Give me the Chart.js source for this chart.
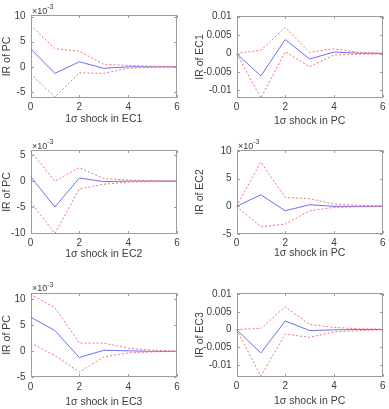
<!DOCTYPE html>
<html>
<head>
<meta charset="utf-8">
<script src="https://cdn.jsdelivr.net/npm/chart.js@4"></script>
<style>
  html,body{margin:0;padding:0;background:#fff;}
  body{width:389px;height:409px;position:relative;overflow:hidden;}
  canvas{position:absolute;}
</style>
</head>
<body>
<canvas id="c1"></canvas>
<canvas id="c2"></canvas>
<canvas id="c3"></canvas>
<canvas id="c4"></canvas>
<canvas id="c5"></canvas>
<canvas id="c6"></canvas>
<script>
// ---------- data ----------
const steps = [0, 1, 2, 3, 4, 5, 6];
const xTicks = [0, 2, 4, 6];

// Panel 1: IR of PC, 1σ shock in EC1 (values in real units)
const p1Ir    = [0.0036, -0.0013, 0.0010, -0.0003, 0.0000, 0.0000, 0.0000];
const p1Upper = [0.0083, 0.0036, 0.0031, 0.0005, 0.0003, 0.0001, 0.00005];
const p1Lower = [-0.0014, -0.0060, -0.0012, -0.0013, -0.0003, -0.0001, -0.00005];
const p1YTicks = [-0.005, 0, 0.005, 0.01];

// Panel 2: IR of EC1, 1σ shock in PC
const p2Ir    = [0, -0.0061, 0.0038, -0.0015, 0.0004, 0.0001, 0.0000];
const p2Upper = [0, 0.0009, 0.0071, 0.0003, 0.0013, 0.0003, 0.0001];
const p2Lower = [0, -0.0121, 0.0005, -0.0036, -0.0004, -0.0002, -0.0001];
const p2YTicks = [-0.01, -0.005, 0, 0.005, 0.01];

// Panel 3: IR of PC, 1σ shock in EC2
const p3Ir    = [0.0009, -0.0050, 0.0006, -0.0001, 0.0000, 0.0000, 0.0000];
const p3Upper = [0.0058, 0.0000, 0.0026, 0.0005, 0.0002, 0.0001, 0.0000];
const p3Lower = [-0.0040, -0.0101, -0.0015, -0.0006, -0.0002, -0.0001, 0.0000];
const p3YTicks = [-0.01, -0.005, 0, 0.005];

// Panel 4: IR of EC2, 1σ shock in PC
const p4Ir    = [0, 0.0021, -0.0008, 0.0003, 0.0000, 0.0000, 0.0000];
const p4Upper = [0, 0.0080, 0.0016, 0.0014, 0.0004, 0.0002, 0.0001];
const p4Lower = [0, -0.0037, -0.0032, -0.0008, -0.0002, -0.0001, 0.0000];
const p4YTicks = [-0.005, 0, 0.005, 0.01];

// Panel 5: IR of PC, 1σ shock in EC3
const p5Ir    = [0.0066, 0.0040, -0.0012, 0.0002, 0.0001, 0.0000, 0.0000];
const p5Upper = [0.0110, 0.0084, 0.0016, 0.0016, 0.0006, 0.0002, 0.0001];
const p5Lower = [0.0016, -0.0008, -0.0040, -0.0011, -0.0003, -0.0001, 0.0000];
const p5YTicks = [-0.005, 0, 0.005, 0.01];

// Panel 6: IR of EC3, 1σ shock in PC
const p6Ir    = [0, -0.0066, 0.0024, -0.0003, -0.0001, 0.0000, 0.0000];
const p6Upper = [0, 0.0003, 0.0064, 0.0014, 0.0006, 0.0002, 0.0001];
const p6Lower = [0, -0.0131, -0.0013, -0.0022, -0.0007, -0.0003, -0.0001];
const p6YTicks = [-0.01, -0.005, 0, 0.005, 0.01];

// ---------- styling ----------
const FONT = "'Liberation Sans', Arial, Helvetica, sans-serif";
const AXIS_COLOR = '#9c9c9c';
const TEXT_COLOR = '#3c3c3c';
const BLUE = '#6f6ff2';
const RED = '#f2707e';
Chart.defaults.font.family = FONT;
Chart.defaults.color = TEXT_COLOR;

const boxPlugin = {
  id: 'matlabBox',
  beforeDatasetsDraw(chart) {
    const {ctx, chartArea: a, scales} = chart;
    const x = scales.x, y = scales.y;
    const l = Math.round(a.left) + 0.5, r = Math.round(a.right) - 0.5;
    const t = Math.round(a.top) + 0.5, b = Math.round(a.bottom) - 0.5;
    ctx.save();
    ctx.strokeStyle = AXIS_COLOR;
    ctx.lineWidth = 1;
    ctx.strokeRect(l, t, r - l, b - t);
    const L = 2.5;
    ctx.beginPath();
    x.ticks.forEach(tk => {
      const px = Math.round(x.getPixelForValue(tk.value)) + 0.5;
      ctx.moveTo(px, b); ctx.lineTo(px, b - L);
      ctx.moveTo(px, t); ctx.lineTo(px, t + L);
    });
    y.ticks.forEach(tk => {
      const py = Math.round(y.getPixelForValue(tk.value)) + 0.5;
      ctx.moveTo(l, py); ctx.lineTo(l + L, py);
      ctx.moveTo(r, py); ctx.lineTo(r - L, py);
    });
    ctx.stroke();
    ctx.restore();
  },
  afterDraw(chart, args, opts) {
    if (!opts.exp) return;
    const {ctx, chartArea: a} = chart;
    ctx.save();
    ctx.fillStyle = TEXT_COLOR;
    ctx.textBaseline = 'alphabetic';
    ctx.font = '9px ' + FONT;
    const base = '\u00d710';
    ctx.fillText(base, a.left + 1.5, a.top - 1.5);
    const w = ctx.measureText(base).width;
    ctx.font = '7px ' + FONT;
    ctx.fillText('-3', a.left + 1.5 + w, a.top - 6);
    ctx.restore();
  }
};

function makePanel(id, geo, area, yTitle, xTitle, ir, upper, lower, yTicks, yMin, yMax, exp) {
  const cv = document.getElementById(id);
  cv.width = geo.w; cv.height = geo.h;
  cv.style.left = geo.left + 'px'; cv.style.top = geo.top + 'px';
  cv.style.width = geo.w + 'px'; cv.style.height = geo.h + 'px';
  const yW = area.l - geo.left;
  const xH = geo.top + geo.h - area.b;
  const padTop = area.t - geo.top;
  const padRight = geo.left + geo.w - area.r;
  const pts = arr => steps.map((s, i) => ({x: s, y: arr[i]}));
  new Chart(cv, {
    type: 'line',
    data: {
      datasets: [
        {data: pts(upper), borderColor: RED, borderWidth: 1, borderDash: [2, 2], pointRadius: 0, tension: 0, fill: false},
        {data: pts(lower), borderColor: RED, borderWidth: 1, borderDash: [2, 2], pointRadius: 0, tension: 0, fill: false},
        {data: pts(ir), borderColor: BLUE, borderWidth: 1, pointRadius: 0, tension: 0, fill: false}
      ]
    },
    options: {
      responsive: false,
      animation: false,
      devicePixelRatio: 1,
      layout: {padding: {left: 0, top: padTop, right: padRight, bottom: 0}},
      plugins: {legend: {display: false}, tooltip: {enabled: false}, matlabBox: {exp: exp}},
      scales: {
        x: {
          type: 'linear', min: 0, max: 6,
          grid: {display: false, drawTicks: false},
          border: {display: false},
          afterBuildTicks: s => { s.ticks = xTicks.map(v => ({value: v})); },
          afterFit: s => { s.height = xH; },
          ticks: {padding: 3.5, font: {size: 10}, color: TEXT_COLOR, maxRotation: 0, autoSkip: false,
                  callback: v => String(v)},
          title: {display: true, text: xTitle, font: {size: 10.5}, color: TEXT_COLOR, padding: {top: 0, bottom: 0.4}}
        },
        y: {
          type: 'linear', min: yMin, max: yMax,
          grid: {display: false, drawTicks: false},
          border: {display: false},
          afterBuildTicks: s => { s.ticks = yTicks.map(v => ({value: v})); },
          afterFit: s => { s.width = yW; },
          ticks: {padding: 5, font: {size: 10}, color: TEXT_COLOR, autoSkip: false,
                  callback: v => exp ? String(Math.round(v * 1000)) : String(parseFloat(v.toFixed(4)))},
          title: {display: true, text: yTitle, font: {size: 10.5}, color: TEXT_COLOR,
                  padding: {top: geo.left === 0 ? 0.7 : 3.7, bottom: 0}}
        }
      }
    },
    plugins: [boxPlugin]
  });
}

makePanel('c1', {left: 0, top: 0, w: 190, h: 126}, {l: 30.5, r: 177, t: 15, b: 98},
  'IR of PC', '1\u03c3 shock in EC1', p1Ir, p1Upper, p1Lower, p1YTicks, -0.0062, 0.0103, true);
makePanel('c2', {left: 190, top: 0, w: 199, h: 128}, {l: 236.5, r: 383, t: 16, b: 98},
  'IR of EC1', '1\u03c3 shock in PC', p2Ir, p2Upper, p2Lower, p2YTicks, -0.0121, 0.0102, false);
makePanel('c3', {left: 0, top: 136, w: 190, h: 125}, {l: 30.5, r: 177, t: 150, b: 234},
  'IR of PC', '1\u03c3 shock in EC2', p3Ir, p3Upper, p3Lower, p3YTicks, -0.0102, 0.0060, true);
makePanel('c4', {left: 190, top: 136, w: 199, h: 124}, {l: 236.5, r: 383, t: 150, b: 234},
  'IR of EC2', '1\u03c3 shock in PC', p4Ir, p4Upper, p4Lower, p4YTicks, -0.005, 0.0102, true);
makePanel('c5', {left: 0, top: 270, w: 190, h: 139}, {l: 30.5, r: 177, t: 292.7, b: 377.3},
  'IR of PC', '1\u03c3 shock in EC3', p5Ir, p5Upper, p5Lower, p5YTicks, -0.005, 0.0113, true);
makePanel('c6', {left: 190, top: 270, w: 199, h: 138}, {l: 236.5, r: 383, t: 293.3, b: 376.7},
  'IR of EC3', '1\u03c3 shock in PC', p6Ir, p6Upper, p6Lower, p6YTicks, -0.0133, 0.0102, false);
</script>
</body>
</html>
